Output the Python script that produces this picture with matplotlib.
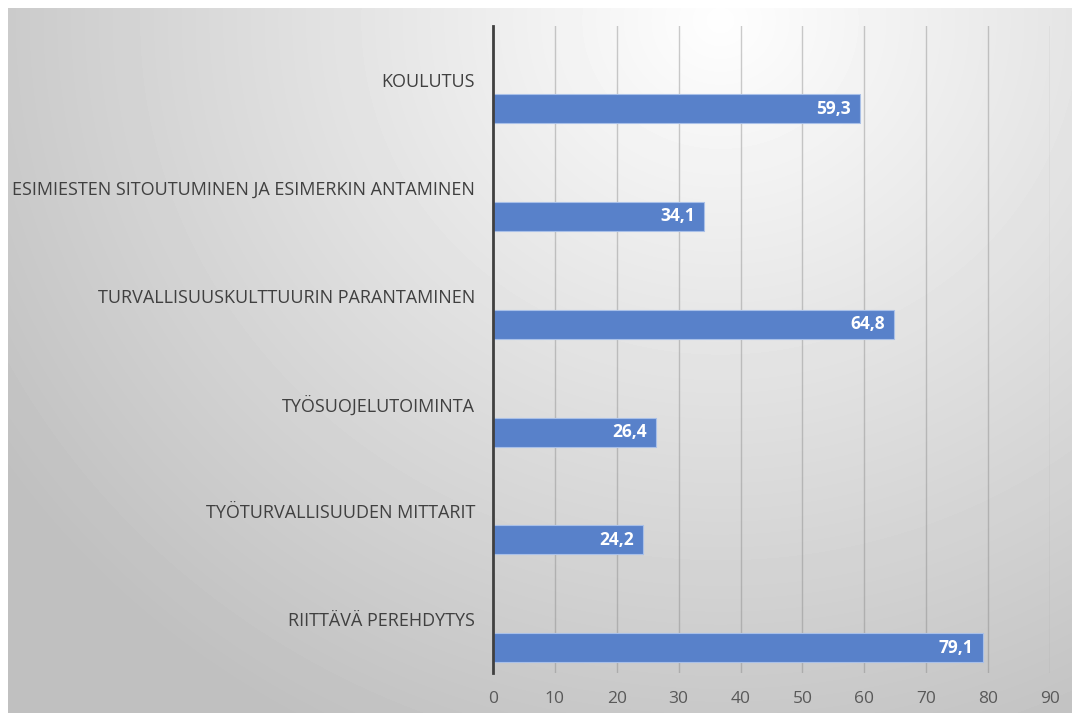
import matplotlib as mpl
mpl.use("Agg")
import matplotlib.pyplot as plt
import numpy as np

# data (top to bottom as in the chart)
categories = [
    "KOULUTUS",
    "ESIMIESTEN SITOUTUMINEN JA ESIMERKIN ANTAMINEN",
    "TURVALLISUUSKULTTUURIN PARANTAMINEN",
    "TYÖSUOJELUTOIMINTA",
    "TYÖTURVALLISUUDEN MITTARIT",
    "RIITTÄVÄ PEREHDYTYS",
]
values = [59.3, 34.1, 64.8, 26.4, 24.2, 79.1]
xticks = [0, 10, 20, 30, 40, 50, 60, 70, 80, 90]

plt.rcParams['font.family'] = ['Open Sans', 'DejaVu Sans']

W, H = 1072, 713
fig = plt.figure(figsize=(W / 100, H / 100), dpi=100)

# gradient background (white margin on top and left)
bg = fig.add_axes([8 / W, 0, 1 - 8 / W, 1 - 8 / H])
bg.set_zorder(-10)
xx, yy = np.meshgrid(np.arange(8, W), np.arange(8, H))
t = np.sqrt(((xx - 720) / 860.0) ** 2 + ((yy - 20) / 800.0) ** 2)
grey = np.clip(254 - 62 * t, 192, 255) / 255.0
bg.imshow(grey, cmap="gray", vmin=0, vmax=1, aspect="auto", interpolation="bilinear")
bg.axis("off")

ax = fig.add_axes([493 / W, 1 - 673 / H, (1050 - 493) / W, (673 - 26) / H])
ax.set_facecolor("none")

ypos = np.arange(len(categories))
bars = ax.barh(ypos + 0.266, values, height=0.27, color="#5881CA",
               edgecolor="#A9C0E8", linewidth=0.8, zorder=3)

for b, v in zip(bars, values):
    ax.text(b.get_width() - 1.5, b.get_y() + b.get_height() / 2,
            ("%.1f" % v).replace(".", ","), ha="right", va="center",
            color="white", fontsize=12.5, fontweight="bold", zorder=4)

ax.set_xlim(0, 90)
ax.set_ylim(len(categories) - 0.5, -0.5)
ax.set_xticks(xticks)
ax.set_xticklabels([str(x) for x in xticks], color="#595959", fontsize=12.5)
ax.set_yticks(ypos)
ax.set_yticklabels(categories, color="#404040", fontsize=13)
ax.tick_params(axis="y", length=0, pad=13)
ax.tick_params(axis="x", length=0, pad=13)

ax.grid(axis="x", color="#7f7f7f", alpha=0.4, linewidth=1.0, zorder=1)
ax.grid(axis="y", visible=False)
for s in ["top", "right", "bottom"]:
    ax.spines[s].set_visible(False)
ax.spines["left"].set_color("#404040")
ax.spines["left"].set_linewidth(2)
ax.spines["left"].set_zorder(5)

fig.savefig("out.png", dpi=100)
